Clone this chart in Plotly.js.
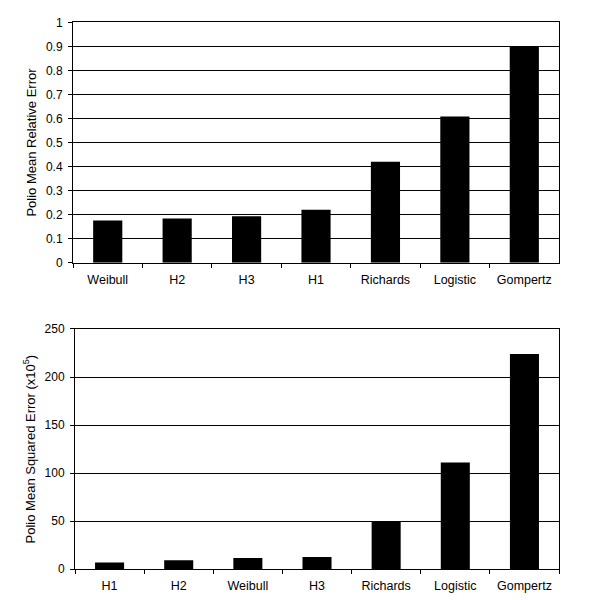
<!DOCTYPE html>
<html>
<head>
<meta charset="utf-8">
<script src="https://cdn.plot.ly/plotly-3.0.1.min.js"></script>
<style>html,body{margin:0;padding:0;background:#fff;}#chart{width:600px;height:600px;}</style>
</head>
<body>
<div id="chart"></div>
<script>
// Top chart: Polio Mean Relative Error
const relCategories = ["Weibull", "H2", "H3", "H1", "Richards", "Logistic", "Gompertz"];
const relValues = [0.175, 0.184, 0.193, 0.22, 0.42, 0.608, 0.9];
const relTicks = [0, 0.1, 0.2, 0.3, 0.4, 0.5, 0.6, 0.7, 0.8, 0.9, 1];

// Bottom chart: Polio Mean Squared Error (x10^5)
const mseCategories = ["H1", "H2", "Weibull", "H3", "Richards", "Logistic", "Gompertz"];
const mseValues = [7, 9.5, 11.7, 12.7, 50, 111, 224];
const mseTicks = [0, 50, 100, 150, 200, 250];

const fam = "Liberation Sans, Arial, sans-serif";
const xFont = {family: fam, size: 12.5, color: "#000"};
const yFont = {family: fam, size: 12, color: "#000"};
const tFont = {family: fam, size: 13, color: "#000"};

const traces = [
  {type: "bar", x: relCategories, y: relValues, xaxis: "x", yaxis: "y",
   marker: {color: "#000", line: {width: 0}}},
  {type: "bar", x: mseCategories, y: mseValues, xaxis: "x2", yaxis: "y2",
   marker: {color: "#000", line: {width: 0}}}
];

const xCommon = {
  type: "category", ticks: "outside", tickson: "boundaries", ticklen: 4,
  tickcolor: "#000", showline: true, linecolor: "#000", linewidth: 1, mirror: true,
  showgrid: false, tickfont: xFont, ticklabelstandoff: 5, automargin: false, fixedrange: true
};
const yCommon = {
  ticks: "outside", ticklen: 4, tickcolor: "#000", showline: true, linecolor: "#000",
  linewidth: 1, mirror: true, showgrid: true, gridcolor: "#000", gridwidth: 1,
  zeroline: false, tickfont: yFont, ticklabelstandoff: 3, automargin: false, fixedrange: true
};

const layout = {
  width: 600, height: 600,
  margin: {l: 0, r: 0, t: 0, b: 0},
  paper_bgcolor: "#fff", plot_bgcolor: "#fff",
  showlegend: false, bargap: 0.58, font: yFont,
  xaxis: Object.assign({}, xCommon, {domain: [0.1217, 0.9317], anchor: "y"}),
  yaxis: Object.assign({}, yCommon, {
    domain: [0.5622, 0.9628], anchor: "x", range: [0, 1],
    tickvals: relTicks, ticktext: relTicks.map(String),
    title: {text: "Polio Mean Relative Error", font: tFont, standoff: 6}
  }),
  xaxis2: Object.assign({}, xCommon, {domain: [0.125, 0.9317], anchor: "y2"}),
  yaxis2: Object.assign({}, yCommon, {
    domain: [0.0512, 0.4517], anchor: "x2", range: [0, 250],
    tickvals: mseTicks, ticktext: mseTicks.map(String),
    title: {text: "Polio Mean Squared Error (x10<sup>5</sup>)", font: tFont, standoff: 6}
  })
};

Plotly.newPlot("chart", traces, layout, {displayModeBar: false, staticPlot: true});
</script>
</body>
</html>
